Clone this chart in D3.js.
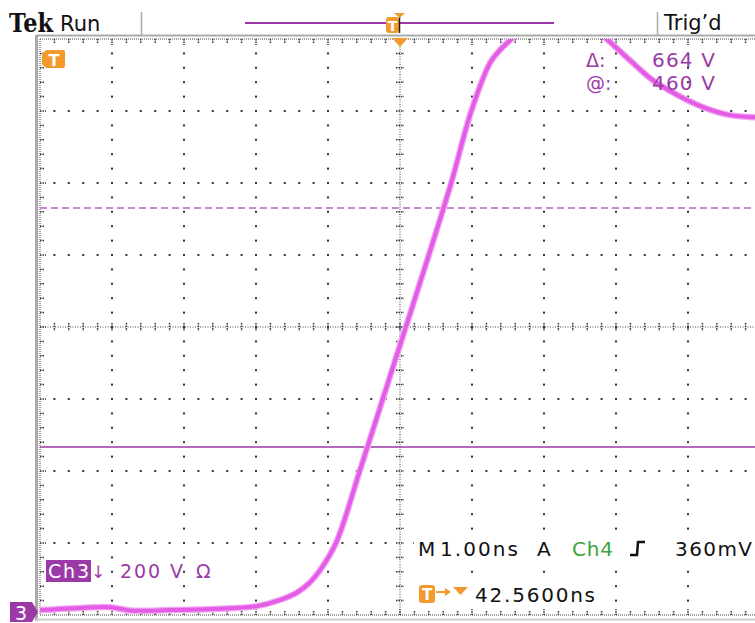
<!DOCTYPE html>
<html>
<head>
<meta charset="utf-8">
<script src="https://cdn.jsdelivr.net/npm/d3@7"></script>
<style>
  body { margin: 0; background: #fff; }
  svg { display: block; }
  text { font-family: "DejaVu Sans", sans-serif; }
</style>
</head>
<body>
<script>
// waveform: time (ns, relative to trigger) and volts
var timeNs = [-5.00, -4.44, -4.03, -3.75, -3.19, -2.78, -2.36, -1.99, -1.67, -1.43,
  -1.25, -1.11, -0.89, -0.56, -0.24, 0.08, 0.40, 0.71, 0.99, 1.25,
  1.39, 1.53, 1.80, 2.20, 2.60, 2.89, 3.19, 3.51, 3.85, 4.21,
  4.58, 4.93, 5.00];
var voltsV = [7, 13, 15, 6, 7, 9, 12, 18, 35, 56,
  84, 118, 193, 393, 593, 793, 993, 1193, 1393, 1527,
  1563, 1590, 1640, 1665, 1640, 1590, 1535, 1479, 1438, 1404,
  1382, 1376, 1375];

// cursors: "@" level and "@ + delta"
var cursorAt = 460;
var cursorDelta = 664;
var cursorVolts = [cursorAt, cursorAt + cursorDelta];

var nsPerDiv = 1;
var voltsPerDiv = 200;
var groundDiv = -3.967; // ch3 ground position, divisions from centre
var hDivs = 10, vDivs = 8;

var headerLeft = ["Tek", "Run"];
var headerRight = "Trig\u2019d";
var readout = { delta: "664 V", at: "460 V" };
var chLabel = ["Ch3", "\u2193", "200 V", "\u03A9"];
var timebase = ["M", "1.00ns", "A", "Ch4", "360mV"];
var trigPos = "42.5600ns";

var W = 755, H = 623;
var gx0 = 40, gx1 = 760, gy0 = 39, gy1 = 615;
var div = 72, minor = 72 / 5;

var purple = "#9b3aa6", orange = "#f39a2e", trace = "#e45ce6";

var xScale = d3.scaleLinear()
  .domain([-hDivs / 2 * nsPerDiv, hDivs / 2 * nsPerDiv])
  .range([gx0, gx1]);
var yScale = d3.scaleLinear()
  .domain([(-vDivs / 2 - groundDiv) * voltsPerDiv, (vDivs / 2 - groundDiv) * voltsPerDiv])
  .range([gy1, gy0]);

var svg = d3.select("body").append("svg")
  .attr("width", W).attr("height", H);

svg.append("defs").append("clipPath").attr("id", "grat")
  .append("rect").attr("x", gx0).attr("y", gy0)
  .attr("width", gx1 - gx0).attr("height", gy1 - gy0);

// graticule
var g = svg.append("g");
var cx = (gx0 + gx1) / 2, cy = (gy0 + gy1) / 2;

// dotted major lines
for (var i = 1; i < hDivs; i++) {
  if (i == hDivs / 2) continue;
  for (var j = 1; j < vDivs * 5; j++) {
    g.append("rect").attr("x", gx0 + i * div - 1).attr("y", gy0 + j * minor - 1)
      .attr("width", 2).attr("height", 2).attr("fill", "#333");
  }
}
for (var j = 1; j < vDivs; j++) {
  if (j == vDivs / 2) continue;
  for (var i = 1; i < hDivs * 5; i++) {
    if (i % 5 == 0) continue;
    g.append("rect").attr("x", gx0 + i * minor - 1).attr("y", gy0 + j * div - 1)
      .attr("width", 2).attr("height", 2).attr("fill", "#333");
  }
}

// centre lines with ticks
g.append("line").attr("x1", cx).attr("x2", cx).attr("y1", gy0).attr("y2", gy1)
  .attr("stroke", "#444").attr("stroke-dasharray", "1,1.5");
g.append("line").attr("x1", gx0).attr("x2", gx1).attr("y1", cy).attr("y2", cy)
  .attr("stroke", "#444").attr("stroke-dasharray", "1,1.5");
for (var j = 1; j < vDivs * 5; j++) {
  var yy = gy0 + j * minor;
  g.append("line").attr("x1", cx - 4).attr("x2", cx + 4).attr("y1", yy).attr("y2", yy)
    .attr("stroke", "#333").attr("stroke-width", 1.5).attr("stroke-dasharray", "1.5,1");
}
for (var i = 1; i < hDivs * 5; i++) {
  var xx = gx0 + i * minor;
  g.append("line").attr("x1", xx).attr("x2", xx).attr("y1", cy - 4).attr("y2", cy + 4)
    .attr("stroke", "#333").attr("stroke-width", 1.5).attr("stroke-dasharray", "1.5,1");
}

// border rulers
g.append("line").attr("x1", gx0).attr("x2", gx1).attr("y1", gy0).attr("y2", gy0)
  .attr("stroke", "#444").attr("stroke-dasharray", "1,1");
g.append("line").attr("x1", gx0).attr("x2", gx1).attr("y1", gy1).attr("y2", gy1)
  .attr("stroke", "#444").attr("stroke-dasharray", "1,1");
g.append("line").attr("x1", gx0).attr("x2", gx0).attr("y1", gy0).attr("y2", gy1)
  .attr("stroke", "#444").attr("stroke-dasharray", "1,1");
for (var i = 1; i < hDivs * 5; i++) {
  var xx = gx0 + i * minor, len = i % 5 == 0 ? 6 : 4;
  g.append("line").attr("x1", xx).attr("x2", xx).attr("y1", gy0).attr("y2", gy0 + len)
    .attr("stroke", "#333").attr("stroke-width", 1.5).attr("stroke-dasharray", "1.5,1");
  g.append("line").attr("x1", xx).attr("x2", xx).attr("y1", gy1).attr("y2", gy1 - len)
    .attr("stroke", "#333").attr("stroke-width", 1.5).attr("stroke-dasharray", "1.5,1");
}
for (var j = 1; j < vDivs * 5; j++) {
  var yy = gy0 + j * minor, len = j % 5 == 0 ? 6 : 4;
  g.append("line").attr("x1", gx0).attr("x2", gx0 + len).attr("y1", yy).attr("y2", yy)
    .attr("stroke", "#333").attr("stroke-width", 1.5).attr("stroke-dasharray", "1.5,1");
}

// frame
svg.append("line").attr("x1", 36).attr("x2", W).attr("y1", 35.5).attr("y2", 35.5)
  .attr("stroke", "#aaa").attr("stroke-width", 2);
svg.append("line").attr("x1", 36.5).attr("x2", 36.5).attr("y1", 35).attr("y2", 621)
  .attr("stroke", "#aaa").attr("stroke-width", 3);
svg.append("line").attr("x1", 36).attr("x2", W).attr("y1", 619.5).attr("y2", 619.5)
  .attr("stroke", "#ccc").attr("stroke-width", 2);

// cursors
svg.selectAll(".cursor").data(cursorVolts).enter().append("line")
  .attr("class", "cursor")
  .attr("x1", gx0).attr("x2", gx1)
  .attr("y1", function(d) { return yScale(d); })
  .attr("y2", function(d) { return yScale(d); })
  .attr("stroke", function(d, i) { return i == 0 ? purple : "#b766c4"; })
  .attr("stroke-width", 1.5)
  .attr("stroke-dasharray", function(d, i) { return i == 0 ? null : "7,4"; });

// trace
var pts = timeNs.map(function(t, i) { return [t, voltsV[i]]; });
var line = d3.line()
  .x(function(d) { return xScale(d[0]); })
  .y(function(d) { return yScale(d[1]); })
  .curve(d3.curveCatmullRom.alpha(0.5));
var tg = svg.append("g").attr("clip-path", "url(#grat)");
tg.append("path").attr("d", line(pts)).attr("fill", "none")
  .attr("stroke", "#f2a8f2").attr("stroke-width", 6.5);
tg.append("path").attr("d", line(pts)).attr("fill", "none")
  .attr("stroke", trace).attr("stroke-width", 4);

// header
svg.append("text").attr("x", 9).attr("y", 32).text(headerLeft[0])
  .style("font-family", "'DejaVu Serif', serif").style("font-weight", "bold")
  .style("font-size", "26px").attr("textLength", 44).attr("lengthAdjust", "spacingAndGlyphs")
  .attr("fill", "#111");
svg.append("text").attr("x", 60).attr("y", 31).text(headerLeft[1])
  .style("font-size", "21px").attr("fill", "#111");
svg.append("line").attr("x1", 141.5).attr("x2", 141.5).attr("y1", 12).attr("y2", 35)
  .attr("stroke", "#aaa").attr("stroke-width", 1.5);
svg.append("line").attr("x1", 657.5).attr("x2", 657.5).attr("y1", 12).attr("y2", 35)
  .attr("stroke", "#aaa").attr("stroke-width", 1.5);
svg.append("text").attr("x", 664).attr("y", 30).text(headerRight)
  .style("font-size", "21px").attr("fill", "#111");
svg.append("line").attr("x1", 245).attr("x2", 554).attr("y1", 23).attr("y2", 23)
  .attr("stroke", purple).attr("stroke-width", 1.8);
svg.append("rect").attr("x", 386).attr("y", 17).attr("width", 13).attr("height", 16)
  .attr("rx", 3).attr("fill", orange);
svg.append("text").attr("x", 392.5).attr("y", 31).attr("text-anchor", "middle").text("T")
  .style("font-size", "14px").style("font-weight", "bold").attr("fill", "#fff");
svg.append("line").attr("x1", 399.5).attr("x2", 399.5).attr("y1", 17).attr("y2", 33)
  .attr("stroke", "#222").attr("stroke-width", 1.5);
svg.append("path").attr("d", "M394,13 L405,13 L399.5,18 Z").attr("fill", orange);
svg.append("path").attr("d", "M392,38 L408,38 L400,47 Z").attr("fill", orange);

// trigger marker top-left
svg.append("path").attr("d", "M42,54 L46,50 L63,50 Q65,50 65,52 L65,66 Q65,68 63,68 L46,68 L42,64 Z")
  .attr("fill", orange);
svg.append("text").attr("x", 54).attr("y", 66).attr("text-anchor", "middle").text("T")
  .style("font-size", "16px").style("font-weight", "bold").attr("fill", "#fff");

// cursor readout
svg.append("text").attr("x", 586).attr("y", 67).text("\u0394:")
  .style("font-size", "19px").attr("fill", purple);
svg.append("text").attr("x", 586).attr("y", 90).text("@:")
  .style("font-size", "19px").attr("fill", purple);
svg.append("text").attr("x", 652).attr("y", 67).text(readout.delta)
  .style("font-size", "20px").attr("textLength", 63).attr("fill", purple);
svg.append("text").attr("x", 652).attr("y", 90).text(readout.at)
  .style("font-size", "20px").attr("textLength", 63).attr("fill", purple);

// ch3 label
svg.append("rect").attr("x", 46).attr("y", 560).attr("width", 45).attr("height", 22)
  .attr("fill", purple);
svg.append("text").attr("x", 48).attr("y", 578).text(chLabel[0])
  .style("font-size", "19px").attr("textLength", 41).attr("fill", "#fff");
svg.append("text").attr("x", 91).attr("y", 578).text(chLabel[1])
  .style("font-size", "17px").attr("fill", purple);
svg.append("text").attr("x", 120).attr("y", 578).text(chLabel[2])
  .style("font-size", "19px").attr("textLength", 63).attr("fill", purple);
svg.append("text").attr("x", 196).attr("y", 578).text(chLabel[3])
  .style("font-size", "19px").attr("fill", purple);

// ground marker
svg.append("path").attr("d", "M10,602 L32,602 L38,612 L32,622 L10,622 Z").attr("fill", purple);
svg.append("text").attr("x", 21).attr("y", 620).attr("text-anchor", "middle").text("3")
  .style("font-size", "19px").attr("fill", "#fff");

// timebase readout
svg.append("rect").attr("x", 414).attr("y", 537).attr("width", 341).attr("height", 24).attr("fill", "#fff");
svg.append("rect").attr("x", 414).attr("y", 581).attr("width", 185).attr("height", 24).attr("fill", "#fff");
var tbX = [418, 440, 537, 572, 675], tbW = [15, 78, 15, 41, 77];
timebase.forEach(function(s, i) {
  svg.append("text").attr("x", tbX[i]).attr("y", 556).text(s)
    .style("font-size", "20px").attr("textLength", tbW[i])
    .attr("fill", i == 3 ? "#3aa63a" : "#111");
});
svg.append("path").attr("d", "M630,555 L637,555 L638,542 L645,542")
  .attr("fill", "none").attr("stroke", "#111").attr("stroke-width", 2.5);

svg.append("rect").attr("x", 419).attr("y", 585).attr("width", 16).attr("height", 18)
  .attr("rx", 3).attr("fill", orange);
svg.append("text").attr("x", 427).attr("y", 600).attr("text-anchor", "middle").text("T")
  .style("font-size", "15px").style("font-weight", "bold").attr("fill", "#fff");
svg.append("line").attr("x1", 436).attr("x2", 448).attr("y1", 592).attr("y2", 592)
  .attr("stroke", orange).attr("stroke-width", 2);
svg.append("path").attr("d", "M445,588 L451,592 L445,596 Z").attr("fill", orange);
svg.append("path").attr("d", "M453,587 L468,587 L460.5,595 Z").attr("fill", orange);
svg.append("text").attr("x", 475).attr("y", 602).text(trigPos)
  .style("font-size", "20px").attr("textLength", 120).attr("fill", "#111");
</script>
</body>
</html>
